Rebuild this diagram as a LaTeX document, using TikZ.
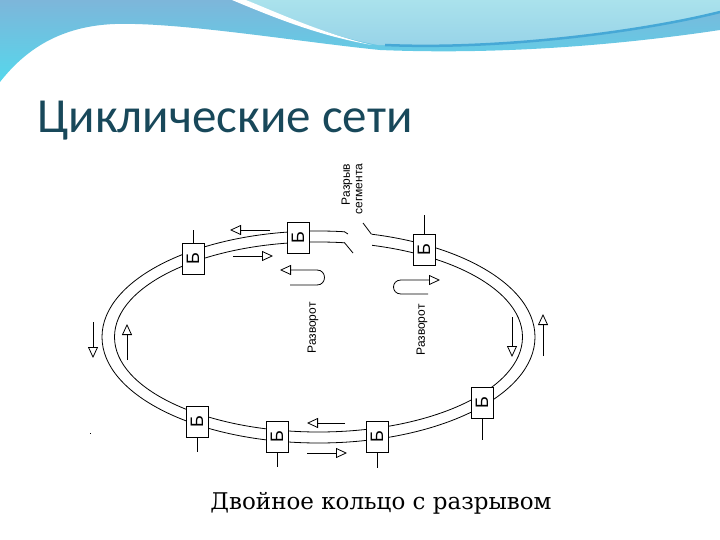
\documentclass[tikz,border=0pt]{standalone}
\usepackage{fontspec}
\setmainfont{DejaVu Serif}
\newfontfamily\titlefont{Carlito}
\newfontfamily\schemefont{Liberation Sans}
\usetikzlibrary{arrows.meta}
\definecolor{titleteal}{RGB}{24,72,90}
\definecolor{waveleft}{RGB}{85,215,236}
\definecolor{waveright}{RGB}{125,182,218}
\definecolor{aquatop}{RGB}{170,226,236}
\definecolor{aquabot}{RGB}{150,210,232}
\definecolor{wavedark}{RGB}{70,168,214}

\begin{document}
\begin{tikzpicture}[x=1pt,y=-1pt,
    bridge/.style={draw, fill=white, line width=0.8pt, minimum width=31pt, minimum height=22pt,
      inner sep=0pt, rotate=90, font=\schemefont\fontsize{18}{18}\selectfont},
    flow/.style={-{Triangle[open,length=11pt,width=10pt]}, line width=0.8pt},
    ring/.style={line width=0.8pt},
    label/.style={rotate=90, inner sep=0pt, font=\schemefont\fontsize{12}{12.5}\selectfont}]
  \useasboundingbox (0,0) rectangle (720,540);

  % Wave on top
  \shade[top color=waveright, bottom color=waveleft] (0,0) -- (720,0) -- (720,30)
    .. controls (620,45) and (500,55) .. (380,50)
    .. controls (300,42) and (180,22) .. (115,24)
    .. controls (60,26) and (25,50) .. (0,82) -- cycle;
  \shade[top color=aquatop, bottom color=aquabot] (246,0) -- (720,0) -- (720,12)
    .. controls (640,32) and (490,50) .. (378,45)
    .. controls (330,36) and (285,18) .. (246,0) -- cycle;
  \fill[white] (232,0) .. controls (275,18) and (320,36) .. (372,45)
    .. controls (325,34) and (285,16) .. (246,0) -- cycle;
  \draw[wavedark, line width=2.5pt] (385,45) .. controls (500,50) and (640,32) .. (720,12);

  % Title
  \node[anchor=base west, inner sep=0pt, text=titleteal,
    font=\titlefont\fontsize{49}{49}\selectfont] (title) at (37,133) {Циклические сети};

  % Double ring
  \draw[ring] (318.5,337) ellipse [x radius=216.5, y radius=106];
  \draw[ring] (318.5,337) ellipse [x radius=204, y radius=95];

  % Segment break
  \fill[white] (344.5,222) rectangle (371.5,256);
  \coordinate (brkA) at (344.5,231.8);
  \coordinate (brkB) at (344.5,242.7);
  \coordinate (brkC) at (371.5,234.3);
  \draw[ring] (brkA) -- (348,234);
  \draw[ring] (brkB) -- (353,253);
  \draw[ring] (brkC) -- (363,223);
  \node[label, align=right] (brktxt) at (352,189) {Разрыв\\сегмента};

  % Traffic directions
  \draw[flow] (270,230) -- (230,230);
  \draw[flow] (233,256) -- (273,256);
  \draw[flow] (290,285) -- (317,285) .. controls (327,285) and (327,270) .. (317,270) -- (280,270);
  \draw[flow] (428,294) -- (401,294) .. controls (391,294) and (391,280) .. (401,280) -- (440,280);
  \draw[flow] (93,322) -- (93,358);
  \draw[flow] (127,360) -- (127,324);
  \draw[flow] (512,317) -- (512,357);
  \draw[flow] (543,356) -- (543,314);
  \draw[flow] (345,423) -- (307,423);
  \draw[flow] (307,453) -- (347,453);

  \node[label] (turnL) at (313,328) {Разворот};
  \node[label] (turnR) at (422,330) {Разворот};

  % Bridges
  \node[bridge] (b1) at (193,259) {Б};
  \node[bridge] (b2) at (298,237.5) {Б};
  \node[bridge] (b3) at (424,250) {Б};
  \node[bridge] (b4) at (482,403) {Б};
  \node[bridge] (b5) at (377,437) {Б};
  \node[bridge] (b6) at (277,436.5) {Б};
  \node[bridge] (b7) at (197,421.5) {Б};

  \draw[ring] (b1.east) -- ++(0,-13);
  \draw[ring] (b3.east) -- ++(0,-19);
  \draw[ring] (b4.west) -- ++(0,21);
  \draw[ring] (b5.west) -- ++(0,15);
  \draw[ring] (b6.west) -- ++(0,15);
  \draw[ring] (b7.west) -- ++(0,15);

  \fill (89.5,432.5) rectangle (91,434);

  % Caption
  \node[anchor=base, inner sep=0pt, font=\fontsize{23}{23}\selectfont] (caption) at (381,509)
    {Двойное кольцо с разрывом};
\end{tikzpicture}
\end{document}
